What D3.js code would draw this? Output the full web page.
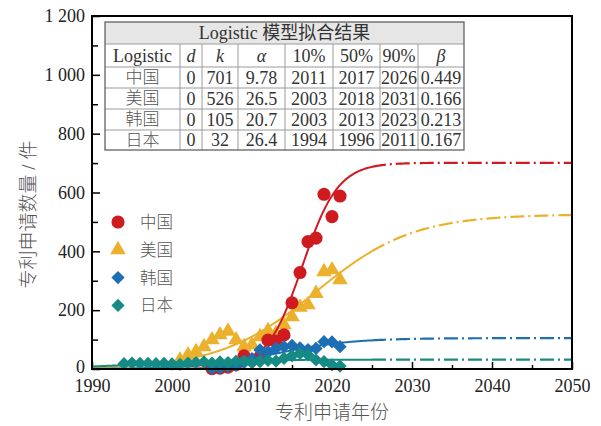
<!DOCTYPE html>
<html>
<head>
<meta charset="utf-8">
<script src="https://cdn.jsdelivr.net/npm/d3@7"></script>
<style>
  body { margin: 0; background: #fff; }
  svg text { font-family: "Liberation Serif", "Noto Sans CJK SC", serif; }
  .cjk { font-family: "Liberation Serif", "Noto Sans CJK SC", sans-serif; font-weight: 300; fill: #555; }
</style>
</head>
<body>
<script>
// observed patent counts per year
const cnYears = d3.range(2005, 2022);
const cnValues = [1, 3, 6, 15, 45, 30, 42, 98, 95, 116, 225, 328, 433, 445, 594, 518, 588];
const usYears = d3.range(2001, 2022);
const usValues = [31, 48, 59, 76, 99, 116, 128, 99, 76, 82, 110, 130, 121, 150, 178, 210, 218, 257, 331, 337, 303];
const krYears = d3.range(2005, 2022);
const krValues = [2, 4, 8, 12, 22, 35, 65, 58, 70, 76, 80, 72, 66, 70, 93, 92, 76];
const jpYears = d3.range(1994, 2022);
const jpValues = [18, 20, 19, 19, 18, 19, 17, 16, 20, 22, 24, 20, 24, 22, 26, 27, 22, 25, 29, 27, 36, 45, 53, 48, 31, 25, 14, 10];

// logistic fit table
const countries = ["中国", "美国", "韩国", "日本"];
const fitD = [0, 0, 0, 0];
const fitK = [701, 526, 105, 32];
const fitAlpha = ["9.78", "26.5", "20.7", "26.4"];
const fit10 = [2011, 2003, 2003, 1994];
const fit50 = [2017, 2018, 2013, 1996];
const fit90 = [2026, 2031, 2023, 2011];
const fitBeta = [0.449, 0.166, 0.213, 0.167];
const curveMid = [2016.3, 2018, 2013, 1996];
const tableHead = ["Logistic", "d", "k", "α", "10%", "50%", "90%", "β"];

const xTicks = [1990, 2000, 2010, 2020, 2030, 2040, 2050];
const yTicks = [0, 200, 400, 600, 800, 1000, 1200];

const colors = ["#cf1b1f", "#ebb12d", "#1c6fb2", "#168b85"];
const solidUntil = 2025;

const width = 601, height = 426;
const plotL = 92, plotR = 572, plotT = 16, plotB = 369;

const svg = d3.select("body").append("svg")
    .attr("width", width)
    .attr("height", height);

const x = d3.scaleLinear().domain([1990, 2050]).range([plotL, plotR]);
const y = d3.scaleLinear().domain([0, 1200]).range([plotB, plotT]);

const fmt = (v) => d3.format(",")(v).replace(",", " ");

// axes
svg.append("g")
    .attr("transform", `translate(0,${plotB})`)
    .call(d3.axisBottom(x).tickValues(xTicks).tickFormat(d3.format("d"))
        .tickSizeInner(-7).tickSizeOuter(0).tickPadding(10));
svg.append("g")
    .attr("transform", `translate(0,${plotB})`)
    .call(d3.axisBottom(x).tickValues(d3.range(1995, 2050, 10)).tickFormat("")
        .tickSizeInner(-4).tickSizeOuter(0));
svg.append("g")
    .attr("transform", `translate(${plotL},0)`)
    .call(d3.axisLeft(y).tickValues(yTicks).tickFormat(fmt)
        .tickSizeInner(-8).tickSizeOuter(0).tickPadding(7));
svg.append("g")
    .attr("transform", `translate(${plotL},0)`)
    .call(d3.axisLeft(y).tickValues(d3.range(100, 1200, 200)).tickFormat("")
        .tickSizeInner(-6).tickSizeOuter(0));

svg.selectAll(".domain").remove();
svg.selectAll(".tick line").attr("stroke", "#000").attr("stroke-width", 1.5);
svg.selectAll(".tick text").attr("font-size", 18).attr("fill", "#222");
// lift the "0" a touch so it clears the 1990 label
svg.selectAll(".tick text").filter(d => d === 0).attr("dy", "0.22em");

// data series
const series = [
    { years: usYears, values: usValues, idx: 1, shape: "tri" },
    { years: cnYears, values: cnValues, idx: 0, shape: "circle" },
    { years: krYears, values: krValues, idx: 2, shape: "diamond" },
    { years: jpYears, values: jpValues, idx: 3, shape: "diamond" }
];

const symbolFor = (shape) => {
    if (shape === "tri") return d3.symbol(d3.symbolTriangle, 105)();
    if (shape === "circle") return d3.symbol(d3.symbolCircle, 135)();
    return d3.symbol(d3.symbolSquare, 88)();
};

const logistic = (i, t) => fitD[i] + fitK[i] / (1 + Math.exp(-fitBeta[i] * (t - curveMid[i])));

const line = d3.line().x(d => x(d[0])).y(d => y(d[1]));

series.forEach(s => {
    const pts = s.years.map((yr, j) => [yr, s.values[j]]);
    svg.append("g").selectAll("path")
        .data(pts)
        .enter()
        .append("path")
        .attr("d", symbolFor(s.shape))
        .attr("transform", d => `translate(${x(d[0])},${y(d[1])})` + (s.shape === "diamond" ? " rotate(45)" : ""))
        .attr("fill", colors[s.idx]);

    const solid = d3.range(1990, solidUntil + 0.01, 0.1).map(t => [t, logistic(s.idx, t)]);
    const dashed = d3.range(solidUntil, 2050.01, 0.1).map(t => [t, logistic(s.idx, t)]);
    svg.append("path")
        .attr("d", line(solid))
        .attr("fill", "none")
        .attr("stroke", colors[s.idx])
        .attr("stroke-width", 2);
    svg.append("path")
        .attr("d", line(dashed))
        .attr("fill", "none")
        .attr("stroke", colors[s.idx])
        .attr("stroke-width", 2.2)
        .attr("stroke-dasharray", "14,4,2,4");
});

// frame
svg.append("rect")
    .attr("x", plotL).attr("y", plotT)
    .attr("width", plotR - plotL).attr("height", plotB - plotT)
    .attr("fill", "none").attr("stroke", "#000").attr("stroke-width", 2);

// axis titles
svg.append("text")
    .attr("class", "cjk")
    .attr("x", (plotL + plotR) / 2)
    .attr("y", 419)
    .attr("text-anchor", "middle")
    .attr("font-size", 19)
    .text("专利申请年份");
svg.append("text")
    .attr("class", "cjk")
    .attr("transform", `translate(35,${(plotT + plotB) / 2 + 22}) rotate(-90)`)
    .attr("text-anchor", "middle")
    .attr("font-size", 19)
    .text("专利申请数量 / 件");

// legend
const legendShapes = ["circle", "tri", "diamond", "diamond"];
const legend = svg.append("g");
countries.forEach((name, i) => {
    const ly = 222 + i * 27.8;
    legend.append("path")
        .attr("d", symbolFor(legendShapes[i]))
        .attr("transform", `translate(118,${ly})` + (legendShapes[i] === "diamond" ? " rotate(45)" : ""))
        .attr("fill", colors[i]);
    legend.append("text")
        .attr("class", "cjk")
        .attr("x", 140)
        .attr("y", ly)
        .attr("dy", "0.36em")
        .attr("font-size", 16.5)
        .text(name);
});

// fit table
const colEdges = [105, 180, 202, 238, 285, 333, 380, 418, 464];
const rowEdges = [22, 44, 67, 88, 109, 130, 150];
const table = svg.append("g");
table.append("rect")
    .attr("x", colEdges[0]).attr("y", rowEdges[0])
    .attr("width", colEdges[8] - colEdges[0]).attr("height", rowEdges[1] - rowEdges[0])
    .attr("fill", "#e6e6e6");
table.append("rect")
    .attr("x", colEdges[0]).attr("y", rowEdges[1])
    .attr("width", colEdges[8] - colEdges[0]).attr("height", rowEdges[6] - rowEdges[1])
    .attr("fill", "#fff");
rowEdges.slice(1, 6).forEach(ry => {
    table.append("line")
        .attr("x1", colEdges[0]).attr("x2", colEdges[8])
        .attr("y1", ry).attr("y2", ry)
        .attr("stroke", "#9a9a9a").attr("stroke-width", 1);
});
colEdges.slice(1, 8).forEach(cx => {
    table.append("line")
        .attr("x1", cx).attr("x2", cx)
        .attr("y1", rowEdges[1]).attr("y2", rowEdges[6])
        .attr("stroke", "#9a9a9a").attr("stroke-width", 1);
});
table.append("rect")
    .attr("x", colEdges[0]).attr("y", rowEdges[0])
    .attr("width", colEdges[8] - colEdges[0]).attr("height", rowEdges[6] - rowEdges[0])
    .attr("fill", "none").attr("stroke", "#555").attr("stroke-width", 1.2);

table.append("text")
    .attr("x", (colEdges[0] + colEdges[8]) / 2)
    .attr("y", (rowEdges[0] + rowEdges[1]) / 2)
    .attr("dy", "0.35em")
    .attr("text-anchor", "middle")
    .attr("font-size", 18)
    .attr("fill", "#333")
    .text("Logistic 模型拟合结果");

const cellText = (col, row, txt, opts = {}) => {
    const t = table.append("text")
        .attr("x", (colEdges[col] + colEdges[col + 1]) / 2)
        .attr("y", (rowEdges[row] + rowEdges[row + 1]) / 2)
        .attr("dy", "0.35em")
        .attr("text-anchor", "middle")
        .attr("font-size", 18)
        .attr("fill", "#333")
        .text(txt);
    if (opts.italic) t.attr("font-style", "italic");
    if (opts.cjk) t.attr("class", "cjk").attr("font-size", 17);
};

tableHead.forEach((h, c) => {
    cellText(c, 1, h, { italic: ["d", "k", "α", "β"].includes(h) });
});
countries.forEach((name, r) => {
    const vals = [fitD[r], fitK[r], fitAlpha[r], fit10[r], fit50[r], fit90[r], d3.format(".3f")(fitBeta[r])];
    cellText(0, r + 2, name, { cjk: true });
    vals.forEach((v, c) => cellText(c + 1, r + 2, v));
});
</script>
</body>
</html>
